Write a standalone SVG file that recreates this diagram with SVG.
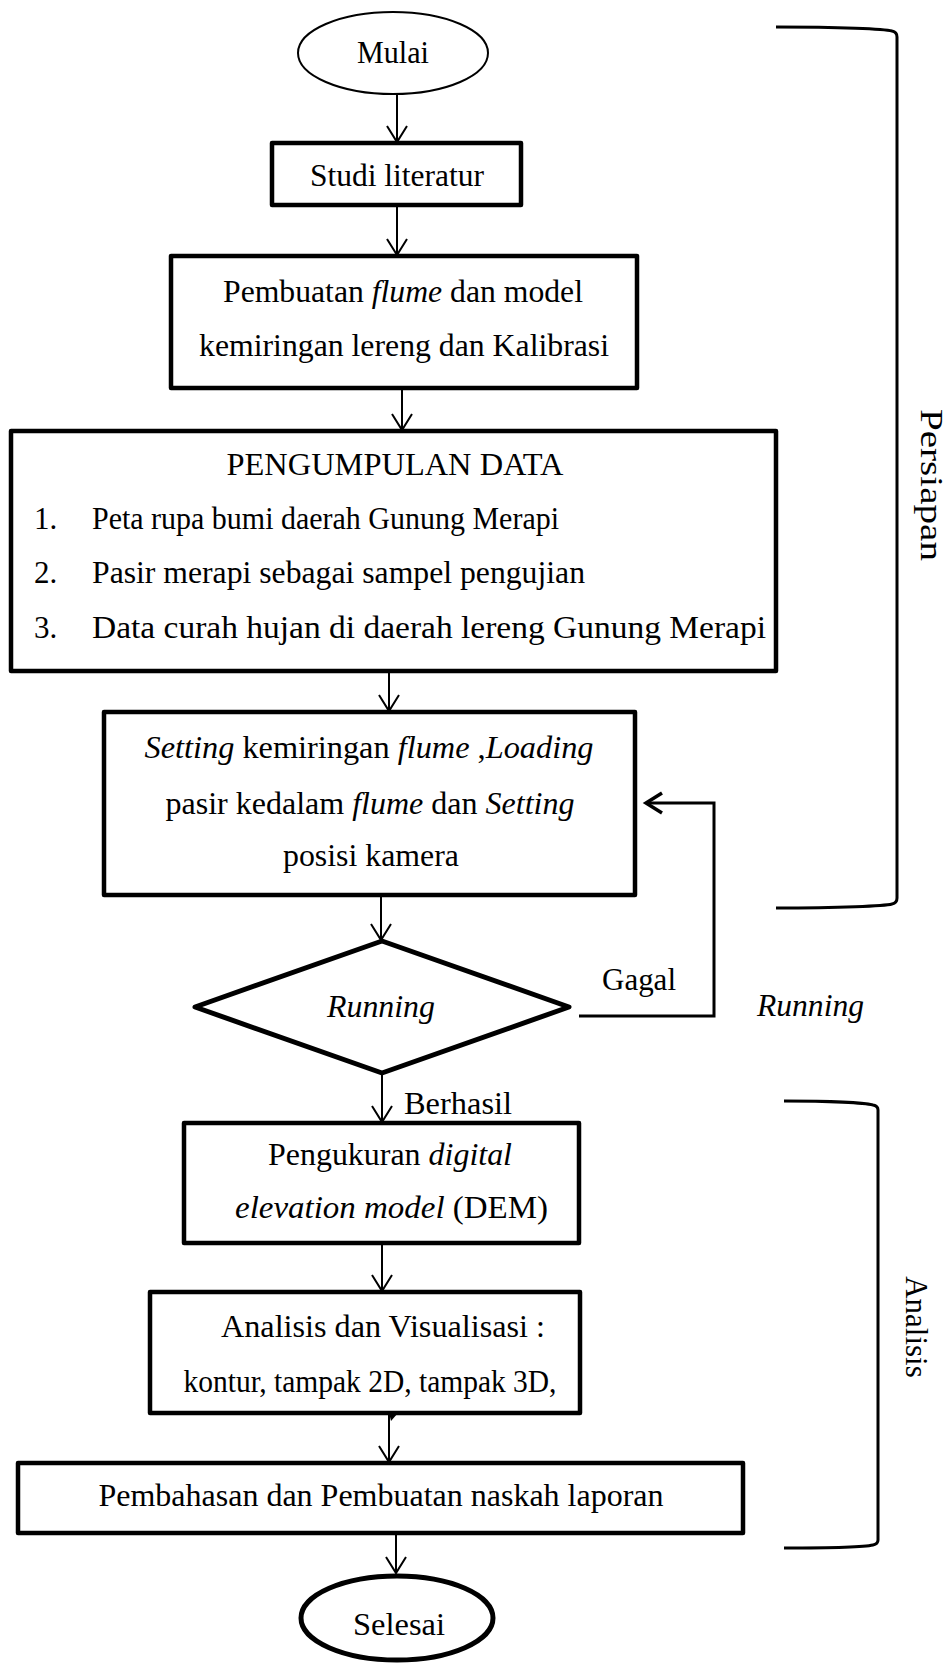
<svg xmlns="http://www.w3.org/2000/svg" width="948" height="1665" viewBox="0 0 948 1665" font-family="'Liberation Serif', 'Times New Roman', serif">
<style>
text{font-family:'Liberation Serif','Times New Roman',serif;font-size:31px;fill:#000}
.c{text-anchor:middle}
.i{font-style:italic}
.box{fill:#fff;stroke:#000;stroke-width:4.5;stroke-linejoin:round}
.ln{fill:none;stroke:#000;stroke-width:2}
.lk{fill:none;stroke:#000;stroke-width:3}
.br{fill:none;stroke:#000;stroke-width:3}
</style>
<defs>
<marker id="ah" markerWidth="24" markerHeight="24" viewBox="-20 -12 24 24" refX="0" refY="0" orient="auto" markerUnits="userSpaceOnUse">
<path d="M-16,-10 L0,0 L-16,10" fill="none" stroke="#000" stroke-width="2"/>
</marker>
<marker id="ah2" markerWidth="26" markerHeight="26" viewBox="-20 -13 24 26" refX="0" refY="0" orient="auto" markerUnits="userSpaceOnUse">
<path d="M-16,-10 L0,0 L-16,10" fill="none" stroke="#000" stroke-width="3.5"/>
</marker>
</defs>

<g id="connectors">
<line class="ln" x1="397" y1="95" x2="397" y2="142" marker-end="url(#ah)"/>
<line class="ln" x1="397" y1="205" x2="397" y2="255" marker-end="url(#ah)"/>
<line class="ln" x1="402" y1="388" x2="402" y2="430" marker-end="url(#ah)"/>
<line class="ln" x1="389" y1="671" x2="389" y2="711" marker-end="url(#ah)"/>
<line class="ln" x1="381" y1="895" x2="381" y2="940" marker-end="url(#ah)"/>
<line class="ln" x1="382" y1="1073" x2="382" y2="1122" marker-end="url(#ah)"/>
<line class="ln" x1="382" y1="1243" x2="382" y2="1291" marker-end="url(#ah)"/>
<line class="ln" x1="389" y1="1413" x2="389" y2="1462" marker-end="url(#ah)"/>
<polygon points="389,1413 398,1413 391,1421" fill="#000"/>
<line class="ln" x1="396" y1="1533" x2="396" y2="1573" marker-end="url(#ah)"/>
<polyline class="lk" points="579,1016 714,1016 714,803 646,803" marker-end="url(#ah2)"/>
</g>

<g id="mulai">
<ellipse cx="393" cy="53" rx="95" ry="41" fill="#fff" stroke="#000" stroke-width="2"/>
<text class="c" x="393" y="63" textLength="72" lengthAdjust="spacingAndGlyphs">Mulai</text>
</g>

<g id="studi">
<rect class="box" x="272" y="143" width="249" height="62"/>
<text class="c" x="397" y="186" textLength="174" lengthAdjust="spacingAndGlyphs">Studi literatur</text>
</g>

<g id="pembuatan">
<rect class="box" x="171" y="256" width="466" height="132"/>
<text class="c" x="403" y="302" textLength="360" lengthAdjust="spacingAndGlyphs">Pembuatan <tspan class="i">flume</tspan> dan model</text>
<text class="c" x="404" y="356" textLength="410" lengthAdjust="spacingAndGlyphs">kemiringan  lereng dan Kalibrasi</text>
</g>

<g id="pengumpulan">
<rect class="box" x="11" y="431" width="765" height="240"/>
<text class="c" x="395" y="475" textLength="337" lengthAdjust="spacingAndGlyphs">PENGUMPULAN  DATA</text>
<text x="34" y="529">1.</text>
<text x="92" y="529" textLength="467" lengthAdjust="spacingAndGlyphs">Peta rupa bumi daerah Gunung  Merapi</text>
<text x="34" y="583">2.</text>
<text x="92" y="583" textLength="493" lengthAdjust="spacingAndGlyphs">Pasir merapi sebagai sampel pengujian</text>
<text x="34" y="638">3.</text>
<text x="92" y="638" textLength="674" lengthAdjust="spacingAndGlyphs">Data curah hujan di daerah lereng Gunung  Merapi</text>
</g>

<g id="setting">
<rect class="box" x="104" y="712" width="531" height="183"/>
<text class="c" x="369" y="758" textLength="449" lengthAdjust="spacingAndGlyphs"><tspan class="i">Setting</tspan> kemiringan <tspan class="i">flume</tspan> ,<tspan class="i">Loading</tspan></text>
<text class="c" x="370" y="814" textLength="409" lengthAdjust="spacingAndGlyphs">pasir kedalam <tspan class="i">flume</tspan> dan <tspan class="i">Setting</tspan></text>
<text class="c" x="371" y="866" textLength="176" lengthAdjust="spacingAndGlyphs">posisi kamera</text>
</g>

<g id="running">
<polygon points="382,941 569,1007 382,1073 195,1007" fill="#fff" stroke="#000" stroke-width="5" stroke-linejoin="round"/>
<text class="c i" x="381" y="1017" textLength="108" lengthAdjust="spacingAndGlyphs">Running</text>
</g>

<g id="labels">
<text x="602" y="990" textLength="74" lengthAdjust="spacingAndGlyphs">Gagal</text>
<text class="i" x="757" y="1016" textLength="107" lengthAdjust="spacingAndGlyphs">Running</text>
<text x="404" y="1114" textLength="108" lengthAdjust="spacingAndGlyphs">Berhasil</text>
</g>

<g id="pengukuran">
<rect class="box" x="184" y="1123" width="395" height="120"/>
<text x="268" y="1165" textLength="244" lengthAdjust="spacingAndGlyphs">Pengukuran  <tspan class="i">digital</tspan></text>
<text x="235" y="1218" textLength="313" lengthAdjust="spacingAndGlyphs"><tspan class="i">elevation model</tspan>  (DEM)</text>
</g>

<g id="analisis">
<rect class="box" x="150" y="1292" width="430" height="121"/>
<text class="c" x="383" y="1337" textLength="324" lengthAdjust="spacingAndGlyphs">Analisis dan Visualisasi :</text>
<text class="c" x="370" y="1392" textLength="373" lengthAdjust="spacingAndGlyphs">kontur,  tampak  2D, tampak  3D,</text>
</g>

<g id="pembahasan">
<rect class="box" x="18" y="1463" width="725" height="70"/>
<text class="c" x="381" y="1506" textLength="565" lengthAdjust="spacingAndGlyphs">Pembahasan  dan Pembuatan  naskah laporan</text>
</g>

<g id="selesai">
<ellipse cx="397" cy="1618" rx="96" ry="42" fill="#fff" stroke="#000" stroke-width="5"/>
<text class="c" x="399" y="1635" textLength="92" lengthAdjust="spacingAndGlyphs">Selesai</text>
</g>

<g id="bracket-persiapan">
<path class="br" d="M776,27 C840,27 885,29 892,31 Q897,32 897,37 L897,898 Q897,903 892,904 C885,906 840,908 776,908"/>
<text class="c" transform="translate(921,485) rotate(90)" font-size="28" textLength="152" lengthAdjust="spacingAndGlyphs">Persiapan</text>
</g>

<g id="bracket-analisis">
<path class="br" d="M784,1101 C830,1101 865,1103 873,1105 Q878,1106 878,1110 L878,1540 Q878,1544 873,1545 C865,1547 830,1548 784,1548"/>
<text class="c" transform="translate(906,1327) rotate(90)" font-size="31">Analisis</text>
</g>
</svg>
